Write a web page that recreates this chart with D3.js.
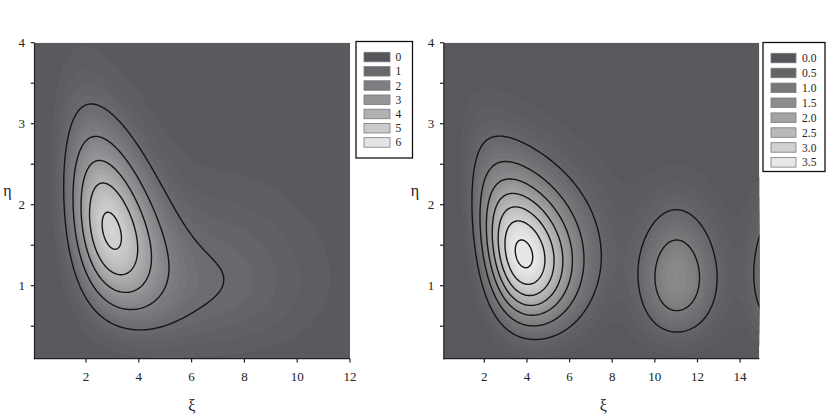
<!DOCTYPE html>
<html><head><meta charset="utf-8">
<script src="https://cdn.jsdelivr.net/npm/d3@7"></script>
<style>body{margin:0;background:#fff}svg{display:block}</style>
</head><body>
<svg id="chart" width="830" height="419"></svg>
<script>
// ---------- data ----------
// Left panel: density lobes (peak position in ξ, η; peak value; widths in √ξ and η^0.7; shear/bend of ridge)
const leftLobeXi    = [2.95, 7.3];
const leftLobeEta   = [1.68, 1.09];
const leftLobeAmp   = [5.2, 0.88];
const leftLobeSu    = [0.354, 0.38];
const leftLobeSv    = [0.4315, 0.45];
const leftLobeShear = [-0.475, 0];
const leftLobeBend  = [0, 0];
const leftLineLevels = [1, 2, 3, 4, 5];
const leftFillStep = 0.2;
const leftLegendLabels = ["0", "1", "2", "3", "4", "5", "6"];
const leftLegendValues = [0, 1, 2, 3, 4, 5, 6];
const leftGrays = ["#56565a", "#69696d", "#7e7e82", "#969699", "#b0b0b2", "#cbcbcd", "#e5e5e7"];
const leftXTicks = [2, 4, 6, 8, 10, 12];

// Right panel
const rightLobeXi    = [3.85, 11.04, 15.8];
const rightLobeEta   = [1.39, 1.10, 1.15];
const rightLobeAmp   = [3.63, 1.40, 1.15];
const rightLobeSu    = [0.387, 0.189, 0.11];
const rightLobeSv    = [0.39, 0.36, 0.36];
const rightLobeShear = [-0.258, 0, 0];
const rightLobeBend  = [0.31, 0, 0];
const rightLineLevels = [0.5, 1.0, 1.5, 2.0, 2.5, 3.0, 3.5];
const rightFillStep = 0.1;
const rightLegendLabels = ["0.0", "0.5", "1.0", "1.5", "2.0", "2.5", "3.0", "3.5"];
const rightLegendValues = [0, 0.5, 1, 1.5, 2, 2.5, 3, 3.5];
const rightGrays = ["#56565a", "#656569", "#78787b", "#8c8c8f", "#a3a3a5", "#bababc", "#d1d1d3", "#e7e7e9"];
const rightXTicks = [2, 4, 6, 8, 10, 12, 14];

const yTicks = [1, 2, 3, 4];
const yMinorTicks = [0.5, 1.5, 2.5, 3.5];

// ---------- drawing ----------
const svg = d3.select("#chart");
const FONT = "Liberation Serif, Times New Roman, serif";

function field(L, xi, eta) {
  const u = Math.sqrt(Math.max(xi, 0)), v = Math.pow(Math.max(eta, 0), 0.7);
  let s = 0;
  for (let k = 0; k < L.xi.length; k++) {
    const du = u - Math.sqrt(L.xi[k]);
    const vc = Math.pow(L.eta[k], 0.7) + L.shear[k] * du + L.bend[k] * du * du;
    const dv = v - vc;
    s += L.amp[k] * Math.exp(-du * du / (2 * L.su[k] * L.su[k]) - dv * dv / (2 * L.sv[k] * L.sv[k]));
  }
  return s;
}

function drawPanel(c) {
  const g = svg.append("g");
  const x = d3.scaleLinear().domain(c.xDomain).range([c.left, c.right]);
  const y = d3.scaleLinear().domain(c.yDomain).range([c.bottom, c.top]);
  const color = d3.scaleLinear().domain(c.legendValues).range(c.grays).clamp(true);

  const clipId = "clip" + c.id;
  svg.append("clipPath").attr("id", clipId).append("rect")
    .attr("x", c.left).attr("y", c.top).attr("width", c.right - c.left).attr("height", c.bottom - c.top);

  // grid
  const n = 330, m = 330;
  const dx = (c.xDomain[1] - c.xDomain[0]) / (n - 5), dy = (c.yDomain[1] - c.yDomain[0]) / (m - 5);
  const x0 = c.xDomain[0] - 2 * dx, y0 = c.yDomain[0] - 2 * dy;
  const values = new Float64Array(n * m);
  let vmax = 0;
  for (let j = 0; j < m; j++) for (let i = 0; i < n; i++) {
    const val = field(c.lobes, x0 + i * dx, y0 + j * dy);
    values[j * n + i] = val; if (val > vmax) vmax = val;
  }
  const proj = d3.geoTransform({
    point(px, py) { this.stream.point(x(x0 + (px - 0.5) * dx), y(y0 + (py - 0.5) * dy)); }
  });
  const path = d3.geoPath(proj);

  const plot = g.append("g").attr("clip-path", `url(#${clipId})`);
  plot.append("rect").attr("x", c.left).attr("y", c.top)
    .attr("width", c.right - c.left).attr("height", c.bottom - c.top)
    .attr("fill", color(c.fillStep));

  const fillThresholds = d3.range(c.fillStep, vmax, c.fillStep);
  const bands = d3.contours().size([n, m]).thresholds(fillThresholds)(values);
  plot.append("g").selectAll("path").data(bands).join("path")
    .attr("d", path)
    .attr("fill", d => color(d.value + c.fillStep))
    .attr("stroke", d => color(d.value + c.fillStep))
    .attr("stroke-width", 0.3);

  const lines = d3.contours().size([n, m]).thresholds(c.lineLevels)(values);
  plot.append("g").selectAll("path").data(lines).join("path")
    .attr("d", path).attr("fill", "none").attr("stroke", "#161616").attr("stroke-width", 1.4)
    .attr("stroke-linejoin", "round");

  // axes
  const ax = g.append("g").attr("stroke", "#222").attr("stroke-width", 1.2);
  ax.append("line").attr("x1", c.left).attr("x2", c.left).attr("y1", c.top).attr("y2", c.bottom + 0.6);
  ax.append("line").attr("x1", c.left - 0.6).attr("x2", c.right).attr("y1", c.bottom).attr("y2", c.bottom);
  ax.selectAll(".yt").data(yTicks.concat(yMinorTicks)).join("line")
    .attr("x1", c.left - 3.8).attr("x2", c.left).attr("y1", d => y(d)).attr("y2", d => y(d));
  ax.selectAll(".xt").data(c.xTicks).join("line")
    .attr("x1", d => x(d)).attr("x2", d => x(d)).attr("y1", c.bottom).attr("y2", c.bottom + 3.8);

  const tl = g.append("g").attr("font-family", FONT).attr("font-size", 13).attr("fill", "#222");
  tl.selectAll(".yl").data(yTicks).join("text")
    .attr("x", c.left - 9.5).attr("y", d => y(d) + 4.4).attr("text-anchor", "end").text(d => d);
  tl.selectAll(".xl").data(c.xTicks).join("text")
    .attr("x", d => x(d)).attr("y", 381).attr("text-anchor", "middle").text(d => d);

  g.append("text").attr("x", c.etaX).attr("y", 196).attr("text-anchor", "middle")
    .attr("font-family", FONT).attr("font-size", 16).attr("fill", "#222").text("η");
  g.append("text").attr("x", (c.left + c.right) / 2 + c.xiDx).attr("y", 411).attr("text-anchor", "middle")
    .attr("font-family", FONT).attr("font-size", 16).attr("fill", "#222").text("ξ");

  // legend
  const lg = g.append("g");
  lg.append("rect").attr("x", c.lg.x).attr("y", c.lg.y).attr("width", c.lg.w).attr("height", c.lg.h)
    .attr("fill", "#fff").attr("stroke", "#111").attr("stroke-width", 1.3);
  const rows = lg.selectAll(".row").data(c.legendValues).join("g");
  rows.append("rect").attr("x", c.lg.swX).attr("y", (d, i) => c.lg.firstTop + i * c.lg.spacing)
    .attr("width", c.lg.swW).attr("height", 9.5)
    .attr("fill", d => color(d)).attr("stroke", "#7a7a7a").attr("stroke-width", 0.8);
  rows.append("text").attr("x", c.lg.labelX).attr("y", (d, i) => c.lg.firstTop + i * c.lg.spacing + 8.8)
    .attr("font-family", FONT).attr("font-size", 11.5).attr("fill", "#222")
    .text((d, i) => c.legendLabels[i]);
}

drawPanel({
  id: "L", left: 34.5, right: 350, top: 42.7, bottom: 358.6,
  xDomain: [0.05, 12], yDomain: [0.1, 4],
  lobes: { xi: leftLobeXi, eta: leftLobeEta, amp: leftLobeAmp, su: leftLobeSu, sv: leftLobeSv, shear: leftLobeShear, bend: leftLobeBend },
  fillStep: leftFillStep, lineLevels: leftLineLevels,
  legendValues: leftLegendValues, legendLabels: leftLegendLabels, grays: leftGrays,
  xTicks: leftXTicks, etaX: 7.5, xiDx: -0.5,
  lg: { x: 356, y: 41.5, w: 56.5, h: 116.5, swX: 364, swW: 26, firstTop: 52.3, spacing: 14.23, labelX: 395.5 }
});
drawPanel({
  id: "R", left: 443.8, right: 759.3, top: 42.7, bottom: 358.6,
  xDomain: [0.1, 14.9], yDomain: [0.1, 4],
  lobes: { xi: rightLobeXi, eta: rightLobeEta, amp: rightLobeAmp, su: rightLobeSu, sv: rightLobeSv, shear: rightLobeShear, bend: rightLobeBend },
  fillStep: rightFillStep, lineLevels: rightLineLevels,
  legendValues: rightLegendValues, legendLabels: rightLegendLabels, grays: rightGrays,
  xTicks: rightXTicks, etaX: 415, xiDx: 1.8,
  lg: { x: 763, y: 42.5, w: 62, h: 129, swX: 771, swW: 25, firstTop: 53.3, spacing: 14.9, labelX: 802 }
});
</script>
</body></html>
